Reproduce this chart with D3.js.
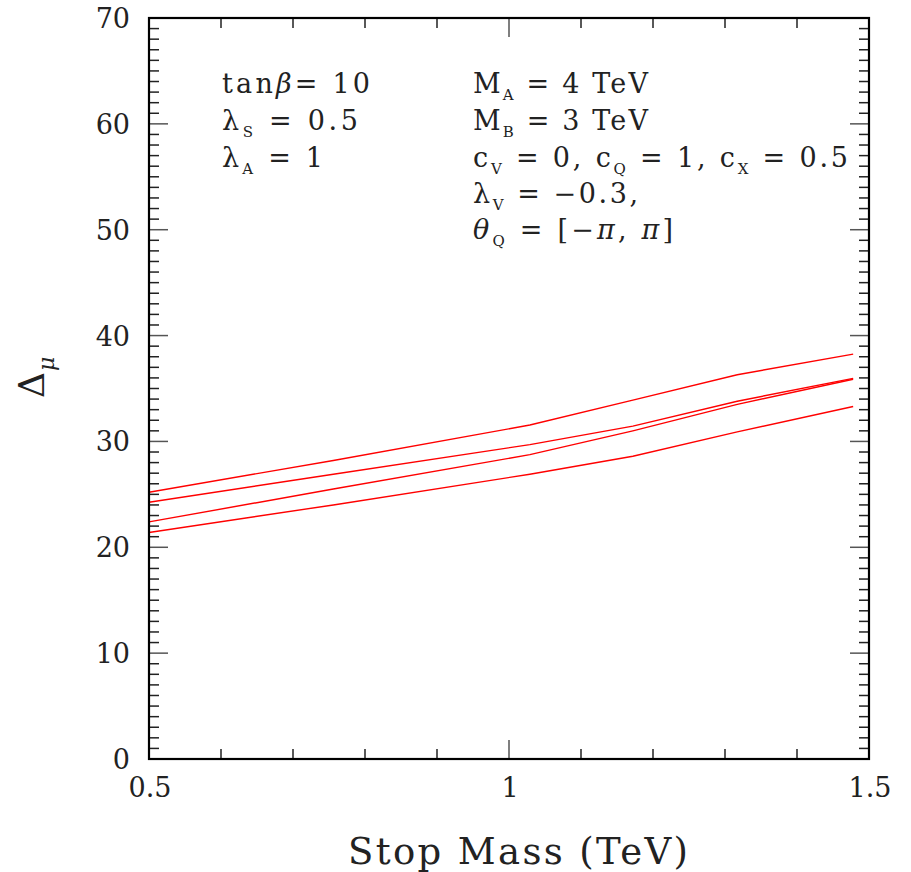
<!DOCTYPE html>
<html><head><meta charset="utf-8">
<script src="https://cdn.jsdelivr.net/npm/d3@7"></script>
<style>body{margin:0;background:#fff}svg{display:block}text{font-family:"DejaVu Serif","Liberation Serif",serif;fill:#222}</style>
</head><body>
<svg id="c" width="911" height="872"></svg>
<script>
const massTeV = [0.5, 0.756, 1.029, 1.172, 1.317, 1.478];
const curve1 = [25.2, 28.2, 31.55, 33.9, 36.3, 38.25];
const curve2 = [24.25, 26.9, 29.7, 31.45, 33.8, 35.96];
const curve3 = [22.4, 25.5, 28.75, 31.0, 33.5, 35.87];
const curve4 = [21.4, 24.0, 26.9, 28.6, 30.9, 33.3];
const xTickLabels = [0.5, 1, 1.5];
const yTickLabels = [0, 10, 20, 30, 40, 50, 60, 70];

const svg = d3.select("#c");
const x = d3.scaleLinear().domain([0.5, 1.5]).range([149, 869]);
const y = d3.scaleLinear().domain([0, 70]).range([759, 18]);
const [x0, x1] = x.range(), [y0, y1] = y.range();

// curves
const line = d3.line().x((d, i) => x(massTeV[i])).y(d => y(d));
[curve1, curve2, curve3, curve4].forEach(c => {
  svg.append("path").attr("d", line(c)).attr("fill", "none")
    .attr("stroke", "#ff0000").attr("stroke-width", 1.4);
});

// ticks
const tg = svg.append("g").attr("stroke-width", 1.5);
d3.range(0, 71, 1).forEach(v => {
  if (v === 0 || v === 70) return;
  const major = v % 10 === 0;
  const L = major ? 19 : 10;
  const col = major ? "#555" : "#222";
  tg.append("line").attr("x1", x0).attr("x2", x0 + L).attr("y1", y(v)).attr("y2", y(v)).attr("stroke", col);
  tg.append("line").attr("x1", x1).attr("x2", x1 - L).attr("y1", y(v)).attr("y2", y(v)).attr("stroke", col);
});
d3.range(0, 11, 1).forEach(i => {
  const v = 0.5 + i * 0.1;
  if (i === 0 || i === 10) return;
  const major = i === 5;
  const L = major ? 19 : 10;
  const col = major ? "#555" : "#222";
  tg.append("line").attr("x1", x(v)).attr("x2", x(v)).attr("y1", y0).attr("y2", y0 - L).attr("stroke", col);
  tg.append("line").attr("x1", x(v)).attr("x2", x(v)).attr("y1", y1).attr("y2", y1 + L).attr("stroke", col);
});

// frame
svg.append("rect").attr("x", x0).attr("y", y1).attr("width", x1 - x0).attr("height", y0 - y1)
  .attr("fill", "none").attr("stroke", "#000").attr("stroke-width", 2.2);

// tick labels
yTickLabels.forEach(v => {
  svg.append("text").attr("x", 130).attr("y", y(v) + 10).attr("text-anchor", "end")
    .attr("font-size", 27).attr("font-weight", 300).text(v);
});
xTickLabels.forEach(v => {
  svg.append("text").attr("x", x(v) + 1).attr("y", 797).attr("text-anchor", "middle")
    .attr("font-size", 27).text(v);
});

// axis titles
svg.append("text").attr("x", 348).attr("y", 864).attr("font-size", 37)
  .attr("textLength", 340).attr("lengthAdjust", "spacing").text("Stop Mass (TeV)");
const yl = svg.append("text").attr("transform", "translate(44,398) rotate(-90)").attr("font-size", 36);
yl.append("tspan").text("Δ");
yl.append("tspan").attr("font-size", 22).attr("font-style", "italic").attr("dy", 10).attr("dx", 1).text("μ");

// annotations
function ann(xp, yp, len, parts) {
  const t = svg.append("text").attr("x", xp).attr("y", yp).attr("font-size", 27)
    .attr("textLength", len).attr("lengthAdjust", "spacing");
  let lowered = false;
  parts.forEach(p => {
    if (typeof p === "string") p = {s: p};
    if (p.sub) {
      t.append("tspan").attr("font-size", 15).attr("dy", 7).text(p.sub);
      lowered = true;
    } else {
      const ts = t.append("tspan").text(p.s || p.it);
      if (p.it) ts.attr("font-style", "italic");
      if (lowered) { ts.attr("dy", -7); lowered = false; }
    }
  });
}
ann(222, 93, 148, ["tan", {it: "β"}, "= 10"]);
ann(222, 130, 136, ["λ", {sub: "S"}, " = 0.5"]);
ann(222, 167, 101, ["λ", {sub: "A"}, " = 1"]);
ann(473, 93, 175, ["M", {sub: "A"}, " = 4 TeV"]);
ann(473, 130, 175, ["M", {sub: "B"}, " = 3 TeV"]);
ann(473, 167, 375, ["c", {sub: "V"}, " = 0, c", {sub: "Q"}, " = 1, c", {sub: "X"}, " = 0.5"]);
ann(473, 203, 165, ["λ", {sub: "V"}, " = −0.3,"]);
ann(473, 239, 200, [{it: "θ"}, {sub: "Q"}, " = [−", {it: "π"}, ", ", {it: "π"}, "]"]);
</script>
</body></html>
